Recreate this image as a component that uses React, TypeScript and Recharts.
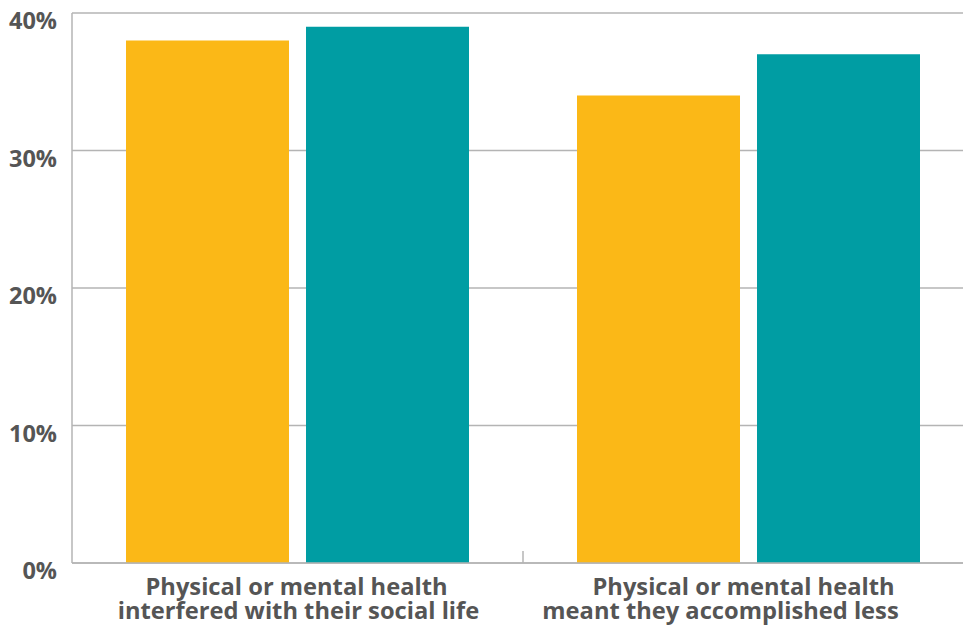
import React from 'react';
import { BarChart, Bar, XAxis, YAxis, CartesianGrid } from 'recharts';

const categories = [
  ['Physical or mental health', 'interfered with their social life'],
  ['Physical or mental health', 'meant they accomplished less'],
];
const seriesA = [38, 34];
const seriesB = [39, 37];
const yTicks = [0, 10, 20, 30, 40];

const data = categories.map((c, i) => ({ name: c.join(' '), a: seriesA[i], b: seriesB[i] }));

// horizontal nudges of label lines (line1, line2) per category, as in the reference
const labelShift = [
  [-1, 1],
  [-5, -28],
];

const TEXT = '#555555';
const GRID = '#b4b4b4';
const FONT = '"Open Sans", sans-serif';

const YTick = (props: any) => {
  const { x, y, payload } = props;
  return (
    <text x={x} y={y + 16} textAnchor="end" fill={TEXT} fontFamily={FONT} fontWeight={700} fontSize={23.5}>
      {payload.value}%
    </text>
  );
};

const XTick = (props: any) => {
  const { x, y, payload, index } = props;
  const lines = categories[index] || [];
  const sh = labelShift[index] || [0, 0];
  const off = payload.offset ?? 0;
  return (
    <g>
      {index > 0 && off > 0 ? (
        <line x1={x - off} x2={x - off} y1={y} y2={y - 12} stroke={GRID} strokeWidth={1.5} />
      ) : null}
      <text textAnchor="middle" fill={TEXT} fontFamily={FONT} fontWeight={700} fontSize={23.7}>
        <tspan x={x + sh[0]} y={y + 32}>{lines[0]}</tspan>
        <tspan x={x + sh[1]} y={y + 56}>{lines[1]}</tspan>
      </text>
    </g>
  );
};

export default function App() {
  return (
    <div style={{ position: 'absolute', left: 0, top: 0, width: 963, height: 628, overflow: 'hidden', background: '#fff' }}>
      <BarChart
        width={990}
        height={628}
        data={data}
        margin={{ top: 13, right: 16, left: 0, bottom: 0 }}
        barCategoryGap={54}
        barGap={17}
      >
        <CartesianGrid vertical={false} stroke={GRID} strokeWidth={1.5} />
        <XAxis
          dataKey="name"
          height={65}
          tickLine={false}
          tickSize={0}
          tickMargin={0}
          axisLine={{ stroke: GRID, strokeWidth: 1.5 }}
          tick={<XTick />}
          interval={0}
        />
        <YAxis
          width={72}
          domain={[0, 40]}
          ticks={yTicks}
          tickLine={false}
          tickSize={0}
          tickMargin={15}
          axisLine={{ stroke: GRID, strokeWidth: 1.5 }}
          tick={<YTick />}
          interval={0}
        />
        <Bar dataKey="a" fill="#FBB817" isAnimationActive={false} />
        <Bar dataKey="b" fill="#009DA3" isAnimationActive={false} />
      </BarChart>
    </div>
  );
}
